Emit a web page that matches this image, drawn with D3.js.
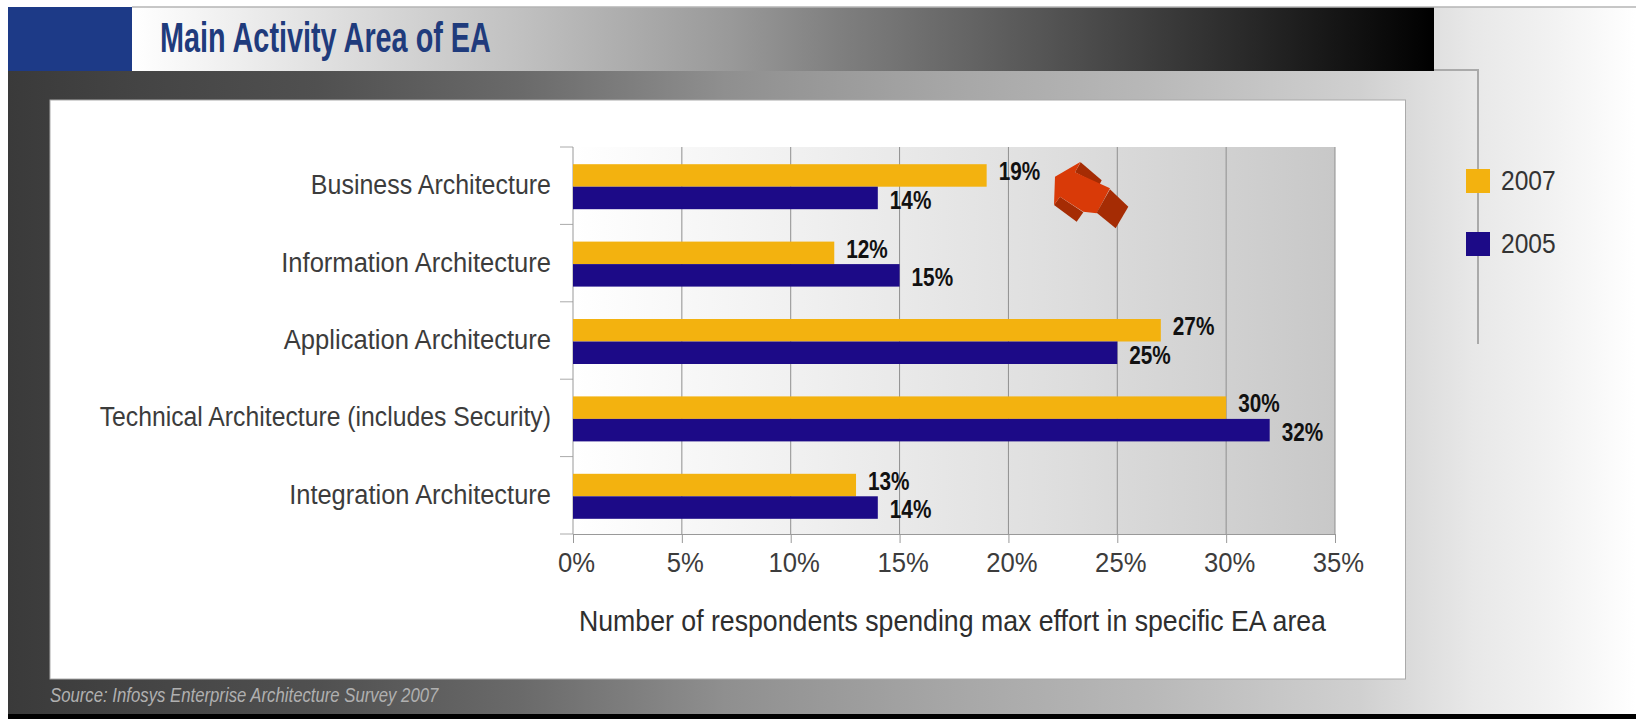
<!DOCTYPE html>
<html>
<head>
<meta charset="utf-8">
<script src="https://cdn.jsdelivr.net/npm/d3@7"></script>
<style>
  html, body { margin: 0; padding: 0; background: #fff; }
  svg { display: block; }
  text { font-family: "Liberation Sans", sans-serif; }
</style>
</head>
<body>
<svg id="chart" width="1636" height="719"></svg>
<script>
const categories = [
  "Business Architecture",
  "Information Architecture",
  "Application Architecture",
  "Technical Architecture (includes Security)",
  "Integration Architecture"
];
const values2007 = [19, 12, 27, 30, 13];
const values2005 = [14, 15, 25, 32, 14];
const seriesNames = ["2007", "2005"];
const seriesColors = ["#f3b20f", "#1c0a87"];
const xTicks = [0, 5, 10, 15, 20, 25, 30, 35];

const svg = d3.select("#chart");
const defs = svg.append("defs");

function linear(id, stops) {
  const g = defs.append("linearGradient").attr("id", id);
  stops.forEach(([o, c]) => g.append("stop").attr("offset", o).attr("stop-color", c));
}
// Squeezes text horizontally so a regular face reads as a condensed one
function condense(selection, factor) {
  selection.each(function (d, i) {
    const f = typeof factor === "function" ? factor(d, i) : factor;
    d3.select(this)
      .attr("textLength", this.getComputedTextLength() * f)
      .attr("lengthAdjust", "spacingAndGlyphs");
  });
  return selection;
}

linear("frameFill", [[0, "#3a3a3a"], [0.08, "#444444"], [0.19, "#505050"], [0.315, "#6a6a6a"], [0.44, "#8f8f8f"], [0.57, "#a5a5a5"], [0.7, "#b8b8b8"], [0.83, "#d0d0d0"], [0.9, "#e8e8e8"], [0.95, "#f2f2f2"], [1, "#ffffff"]]);
linear("headFill", [[0, "#ffffff"], [0.3, "#c0c0c0"], [0.46, "#999999"], [0.54, "#808080"], [0.7, "#555555"], [0.86, "#282828"], [1, "#000000"]]);
linear("plotFill", [[0, "#ffffff"], [0.3, "#f0f0f0"], [0.6, "#e0e0e0"], [1, "#c8c8c8"]]);

// Page frame and header strip
svg.append("rect").attr("x", 8).attr("y", 7).attr("width", 1628).attr("height", 707).attr("fill", "url(#frameFill)");
svg.append("rect").attr("x", 8).attr("y", 7).attr("width", 124).attr("height", 64).attr("fill", "#1d3a87");
svg.append("rect").attr("x", 132).attr("y", 7).attr("width", 1302).attr("height", 64).attr("fill", "url(#headFill)");
svg.append("rect").attr("x", 8).attr("y", 714).attr("width", 1628).attr("height", 5).attr("fill", "#000");
svg.append("line").attr("x1", 132).attr("x2", 1636).attr("y1", 7).attr("y2", 7).attr("stroke", "#b5b5b5").attr("stroke-width", 1.5);
svg.append("line").attr("x1", 1434).attr("x2", 1479).attr("y1", 70).attr("y2", 70).attr("stroke", "#aaa").attr("stroke-width", 2);
svg.append("line").attr("x1", 1478).attr("x2", 1478).attr("y1", 70).attr("y2", 344).attr("stroke", "#aaa").attr("stroke-width", 2);
svg.append("rect").attr("x", 50).attr("y", 100).attr("width", 1355.5).attr("height", 579)
  .attr("fill", "#fff").attr("stroke", "#aaa").attr("stroke-width", 1);

svg.append("text").attr("x", 160).attr("y", 52).attr("font-size", 42).attr("font-weight", 700)
  .attr("fill", "#1f3b7c").text("Main Activity Area of EA").call(condense, 0.686);
svg.append("text").attr("x", 50).attr("y", 702).attr("font-size", 20).attr("font-style", "italic")
  .attr("fill", "#b0b0b0").text("Source: Infosys Enterprise Architecture Survey 2007").call(condense, 0.837);

// Plot area
const plotLeft = 573, plotRight = 1335, plotTop = 147, plotBottom = 534;
const x = d3.scaleLinear().domain([0, 35]).range([plotLeft, plotRight]);
const y = d3.scaleBand().domain(categories).range([plotTop, plotBottom]);
const barH = 22.5;
const groupShift = 1;
const categoryCondense = [0.925, 0.946, 0.947, 0.917, 0.943];

svg.append("rect").attr("x", plotLeft).attr("y", plotTop).attr("width", plotRight - plotLeft).attr("height", plotBottom - plotTop)
  .attr("fill", "url(#plotFill)");

// X axis with full-height grid lines
const xAxis = svg.append("g").attr("transform", `translate(0,${plotBottom})`)
  .call(d3.axisBottom(x).tickValues(xTicks).tickFormat(d => d + "%").tickSize(9).tickPadding(10));
xAxis.select(".domain").attr("stroke", "#999");
xAxis.selectAll(".tick line").attr("stroke", "#999");
xAxis.selectAll(".tick text").attr("font-size", 27).attr("fill", "#3c3c3c").attr("dx", 3).call(condense, 0.95);
svg.append("g").selectAll("line").data(xTicks.slice(1)).join("line")
  .attr("x1", d => x(d)).attr("x2", d => x(d)).attr("y1", plotTop).attr("y2", plotBottom)
  .attr("stroke", "#8f8f8f").attr("stroke-width", 1);

// Y axis: ticks sit on the band edges, labels on the band centres
const yEdges = d3.range(categories.length + 1).map(i => plotTop + i * y.step());
svg.append("g").selectAll("line").data(yEdges).join("line")
  .attr("x1", plotLeft - 13).attr("x2", plotLeft).attr("y1", d => d).attr("y2", d => d)
  .attr("stroke", "#aaa");
svg.append("line").attr("x1", plotLeft).attr("x2", plotLeft).attr("y1", plotTop).attr("y2", plotBottom).attr("stroke", "#999");
svg.append("g").selectAll("text").data(categories).join("text")
  .attr("x", 551).attr("y", d => y(d) + y.bandwidth() / 2 - 1).attr("dy", "0.35em")
  .attr("text-anchor", "end").attr("font-size", 27).attr("fill", "#3c3c3c").text(d => d)
  .call(condense, (d, i) => categoryCondense[i]);

// Paired bars and their value labels
[values2007, values2005].forEach((vals, s) => {
  const rows = categories.map((c, i) => ({ c, v: vals[i] }));
  const yPos = d => y(d.c) + y.bandwidth() / 2 + groupShift + (s - 1) * barH;
  svg.append("g").selectAll("rect").data(rows).join("rect")
    .attr("x", plotLeft).attr("y", yPos).attr("width", d => x(d.v) - plotLeft).attr("height", barH)
    .attr("fill", seriesColors[s]);
  svg.append("g").selectAll("text").data(rows).join("text")
    .attr("x", d => x(d.v) + 12).attr("y", d => yPos(d) + barH / 2 + (s === 0 ? -4 : 2)).attr("dy", "0.35em")
    .attr("font-size", 25).attr("font-weight", 700).attr("fill", "#111").text(d => d.v + "%").call(condense, 0.83);
});

// Axis caption
svg.append("text").attr("x", 579).attr("y", 631).attr("font-size", 29).attr("fill", "#2e2e2e")
  .text("Number of respondents spending max effort in specific EA area").call(condense, 0.92);

// Legend
const legendY = d3.scaleOrdinal().domain(seriesNames).range([169, 232]);
seriesNames.forEach((n, i) => {
  svg.append("rect").attr("x", 1466).attr("y", legendY(n)).attr("width", 24).attr("height", 24).attr("fill", seriesColors[i]);
  svg.append("text").attr("x", 1501).attr("y", legendY(n) + 12).attr("dy", "0.35em")
    .attr("font-size", 27).attr("fill", "#333").text(n).call(condense, 0.91);
});

// Red arrow ornament over the plot
const arrow = svg.append("g").attr("transform", "translate(1050,155) scale(0.3333)");
arrow.append("path").attr("d", "M75,52L92,22L155,76L148,90Z").attr("fill", "#a52c04");
arrow.append("path").attr("d", "M30,125L100,172L80,200L12,150Z").attr("fill", "#a52c04");
arrow.append("path").attr("d", "M15,65L92,20L75,52L180,100L140,175L100,170L30,125L12,150Z").attr("fill", "#d93a08");
arrow.append("path").attr("d", "M180,103L235,155L197,220L140,173Z").attr("fill", "#a52c04");
</script>
</body>
</html>
